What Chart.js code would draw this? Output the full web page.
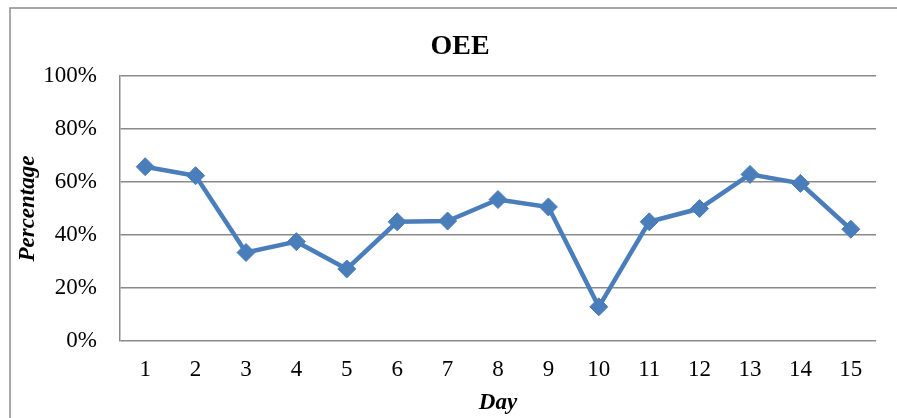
<!DOCTYPE html>
<html>
<head>
<meta charset="utf-8">
<script src="https://cdn.jsdelivr.net/npm/chart.js@4/dist/chart.umd.min.js"></script>
<style>
  html, body { margin: 0; padding: 0; background: #fff; overflow: hidden; }
  #wrap { width: 920px; height: 430px; }
</style>
</head>
<body>
<div id="wrap"><canvas id="grafico"></canvas></div>
<script>
// dados
const dias = ["1", "2", "3", "4", "5", "6", "7", "8", "9", "10", "11", "12", "13", "14", "15"];
const oee = [65.8, 62.4, 33.4, 37.5, 27.2, 45.0, 45.3, 53.4, 50.6, 12.9, 45.0, 50.0, 62.9, 59.5, 42.2];
const ticksY = [0, 20, 40, 60, 80, 100];

const serif = "'Liberation Serif', 'Times New Roman', serif";
const azul = "#4a7ebb";

// moldura cinza do gráfico
const moldura = {
    id: "moldura",
    beforeDraw(chart) {
        const ctx = chart.ctx;
        ctx.save();
        ctx.strokeStyle = "#8c8c8c";
        ctx.lineWidth = 1.5;
        ctx.strokeRect(10, 8, 900, 440);
        ctx.restore();
    }
};

new Chart(document.getElementById("grafico").getContext("2d"), {
    type: "line",
    data: {
        labels: dias,
        datasets: [{
            label: "OEE",
            data: oee,
            borderColor: azul,
            backgroundColor: azul,
            borderWidth: 4.5,
            pointStyle: "rectRot",
            pointRadius: 9,
            pointBorderWidth: 1,
            pointBorderColor: azul,
            pointBackgroundColor: azul,
            tension: 0
        }]
    },
    options: {
        responsive: true,
        maintainAspectRatio: false,
        animation: false,
        layout: { padding: { left: 44, right: 44, top: 8, bottom: 0 } },
        plugins: {
            legend: { display: false },
            tooltip: { enabled: false },
            title: {
                display: true,
                text: "OEE",
                color: "#000",
                font: { family: serif, size: 28, weight: "bold" },
                padding: { top: 22, bottom: 12.5 }
            }
        },
        scales: {
            x: {
                offset: true,
                grid: { display: false, drawTicks: false, offset: true },
                border: { display: false },
                ticks: {
                    color: "#000",
                    font: { family: serif, size: 23 },
                    padding: 15,
                    maxRotation: 0
                },
                title: {
                    display: true,
                    text: "Day",
                    color: "#000",
                    font: { family: serif, size: 23, weight: "bold", style: "italic" },
                    padding: { top: 0, bottom: 13 }
                },
                afterFit(scale) { scale.height = 89; }
            },
            y: {
                min: 0,
                max: 100,
                grid: { color: "#8a8a8a", lineWidth: 1.5, drawTicks: false },
                border: { display: true, color: "#8a8a8a", width: 1.5 },
                ticks: {
                    stepSize: 20,
                    color: "#000",
                    font: { family: serif, size: 23 },
                    padding: 23,
                    callback: v => ticksY.includes(v) ? v + "%" : ""
                },
                title: {
                    display: true,
                    text: "Percentage",
                    color: "#000",
                    font: { family: serif, size: 23, weight: "bold", style: "italic" },
                    padding: { top: -30, bottom: 0 }
                },
                afterFit(scale) { scale.width = 76; }
            }
        }
    },
    plugins: [moldura]
});
</script>
</body>
</html>
